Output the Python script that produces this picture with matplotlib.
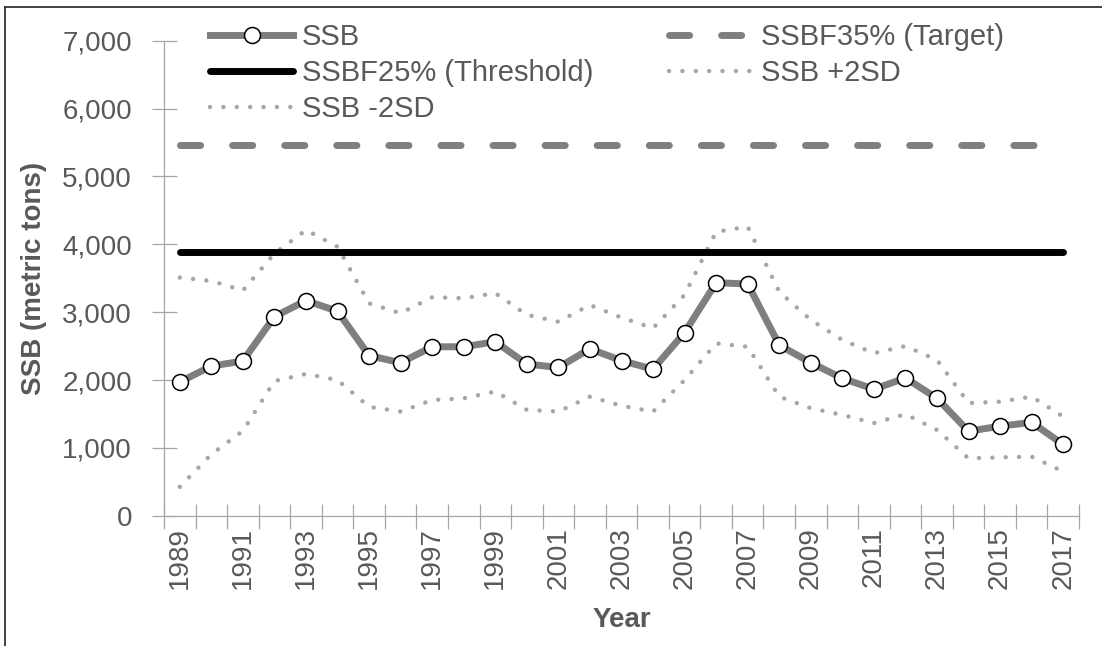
import matplotlib.pyplot as plt
from matplotlib.lines import Line2D
from matplotlib.ticker import FixedLocator, StrMethodFormatter, NullFormatter

years = list(range(1989, 2018))
ssb = [1970, 2205, 2280, 2935, 3170, 3015, 2360, 2255, 2490, 2490, 2565,
       2235, 2185, 2460, 2285, 2160, 2700, 3435, 3415, 2515, 2255, 2025,
       1865, 2030, 1730, 1245, 1320, 1375, 1050]
ssb_plus = [3510, 3460, 3320, 3865, 4210, 3965, 3130, 2985, 3220, 3205, 3280,
            2960, 2860, 3105, 2920, 2765, 3255, 4185, 4260, 3300, 2885, 2590,
            2395, 2500, 2295, 1660, 1680, 1755, 1460]
ssb_minus = [425, 905, 1250, 1985, 2090, 2000, 1605, 1535, 1705, 1730, 1830,
             1560, 1535, 1755, 1620, 1535, 2000, 2540, 2490, 1755, 1585, 1485,
             1365, 1495, 1265, 845, 860, 870, 650]
target = 5460
threshold = 3880

text_grey = "#595959"
axis_grey = "#a6a6a6"
plt.rcParams["font.family"] = ["Liberation Sans", "DejaVu Sans"]

fig = plt.figure(figsize=(11.02, 6.46), dpi=100)
ax = fig.add_axes([164 / 1102, 1 - 515.7 / 646, (1079 - 164) / 1102, (515.7 - 40.8) / 646])

x = list(range(len(years)))
ax.plot(x, ssb_plus, color="#a6a6a6", lw=3.2, linestyle=(0, (0.01, 3.0)),
        dash_capstyle="round", zorder=2)
ax.plot(x, ssb_minus, color="#a6a6a6", lw=3.2, linestyle=(0, (0.01, 3.0)),
        dash_capstyle="round", zorder=2)
ax.plot(x, [target] * len(x), color="#7f7f7f", lw=5, linestyle=(0, (2.9, 4.6)),
        dash_capstyle="round", zorder=3)
ax.plot(x, [threshold] * len(x), color="black", lw=5, solid_capstyle="round", zorder=3)
ax.plot(x, ssb, color="#7f7f7f", lw=5, marker="o", ms=11.5, mfc="white",
        mec="black", mew=1.1, zorder=4)

ax.set_xlim(-0.5, len(years) - 0.5)
ax.set_ylim(0, 7000)
ax.set_yticks(range(0, 7001, 1000))
ax.yaxis.set_major_formatter(StrMethodFormatter("{x:,.0f}"))
ax.tick_params(axis="y", direction="inout", length=18, width=0.9, color=axis_grey,
               labelsize=20, labelcolor=text_grey, pad=14)

ax.xaxis.set_major_locator(FixedLocator([i - 0.5 for i in range(len(years) + 1)]))
ax.xaxis.set_major_formatter(NullFormatter())
ax.xaxis.set_minor_locator(FixedLocator(x[::2]))
ax.set_xticklabels([str(y) for y in years[::2]], minor=True, rotation=90)
ax.tick_params(axis="x", which="major", direction="inout", length=18, width=0.9,
               color=axis_grey)
ax.tick_params(axis="x", which="minor", length=0, labelsize=20,
               labelcolor=text_grey, pad=8)

for side in ("top", "right"):
    ax.spines[side].set_visible(False)
for side in ("left", "bottom"):
    ax.spines[side].set_color(axis_grey)
    ax.spines[side].set_linewidth(0.9)

ax.set_xlabel("Year", fontsize=20, fontweight="bold", color=text_grey, labelpad=13)
ax.set_ylabel("SSB (metric tons)", fontsize=20, fontweight="bold", color=text_grey)
ax.yaxis.set_label_coords((47 - 164) / 915, 0.5)

h_ssb = Line2D([0], [0], color="#7f7f7f", lw=5, marker="o", ms=11.5, mfc="white",
               mec="black", mew=1.1)
h_thr = Line2D([0], [0], color="black", lw=5, solid_capstyle="round")
h_minus = Line2D([0], [0], color="#a6a6a6", lw=3.2, linestyle=(0, (0.01, 3.0)),
                 dash_capstyle="round")
h_tar = Line2D([0], [0], color="#7f7f7f", lw=5, linestyle=(0, (2.9, 4.6)),
               dash_capstyle="round")
h_plus = Line2D([0], [0], color="#a6a6a6", lw=3.2, linestyle=(0, (0.01, 3.0)),
                dash_capstyle="round")
leg = fig.legend([h_ssb, h_thr, h_minus, h_tar, h_plus],
                 ["SSB", "SSBF25% (Threshold)", "SSB -2SD", "SSBF35% (Target)", "SSB +2SD"],
                 loc="upper left", bbox_to_anchor=(210 / 1102, 1 - 23 / 646), ncol=2,
                 frameon=False, fontsize=21, handlelength=2.85, handletextpad=0.3,
                 labelspacing=0.27, columnspacing=2.6, borderpad=0, borderaxespad=0)
for t in leg.get_texts():
    t.set_color(text_grey)

# outer chart frame (top and left edges visible in the crop)
fig.add_artist(Line2D([5 / 1102, 1], [1 - 7 / 646, 1 - 7 / 646], transform=fig.transFigure,
                      color="#333333", lw=1.3))
fig.add_artist(Line2D([5 / 1102, 5 / 1102], [0, 1 - 7 / 646], transform=fig.transFigure,
                      color="#333333", lw=1.3))

fig.savefig("out.png", dpi=100)
